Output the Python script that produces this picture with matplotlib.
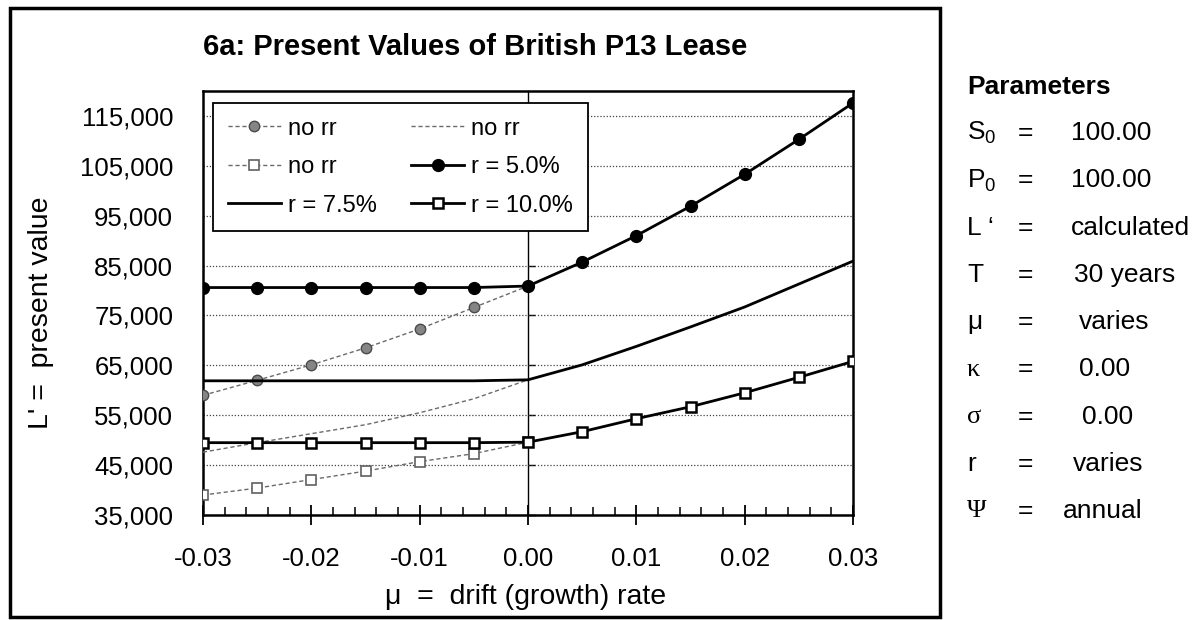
import matplotlib.pyplot as plt
import matplotlib.patches as patches
from matplotlib.ticker import MultipleLocator, FuncFormatter, FormatStrFormatter

plt.rcParams['font.family'] = ['Liberation Sans', 'DejaVu Sans']
plt.rcParams['mathtext.fontset'] = 'custom'
plt.rcParams['mathtext.rm'] = 'Liberation Sans'
plt.rcParams['axes.unicode_minus'] = False

# drift rates
mu = [-0.03, -0.025, -0.02, -0.015, -0.01, -0.005, 0.0, 0.005, 0.01, 0.015, 0.02, 0.025, 0.03]
mu_neg = mu[:7]

# present values
pv_r5 = [80600, 80600, 80600, 80600, 80600, 80600, 80900, 85700, 91000, 96900, 103300, 110300, 117600]
pv_r75 = [61900, 61900, 61900, 61900, 61900, 61900, 62100, 65100, 68800, 72700, 76700, 81300, 85900]
pv_r10 = [49500, 49500, 49500, 49500, 49500, 49500, 49600, 51700, 54300, 56700, 59500, 62600, 65800]
pv_norr_circ = [59000, 62000, 65100, 68500, 72300, 76600, 80900]
pv_norr_line = [47600, 49500, 51300, 53100, 55500, 58300, 62100]
pv_norr_sq = [39000, 40400, 42100, 43800, 45700, 47300, 49600]

y_ticks = [35000, 45000, 55000, 65000, 75000, 85000, 95000, 105000, 115000]
x_ticks = [-0.03, -0.02, -0.01, 0.0, 0.01, 0.02, 0.03]

param_names = ['S$_\\mathregular{0}$', 'P$_\\mathregular{0}$', 'L \u2018', 'T', '\u03bc', '\u03ba', '\u03c3', 'r', '\u03a8']
param_values = ['100.00', '100.00', 'calculated', '30 years', 'varies', '0.00', '0.00', 'varies', 'annual']
param_x = [1071, 1071, 1071, 1074, 1079, 1079, 1082, 1073, 1063]
greek_serif = ['\u03ba', '\u03c3', '\u03a8']

W, H = 1195, 620
fig = plt.figure(figsize=(W / 100, H / 100), dpi=100)
ax = fig.add_axes([203 / W, 1 - 515 / H, 650 / W, 424 / H])

dash = (0, (3, 2))
l_gc, = ax.plot(mu_neg, pv_norr_circ, linestyle=dash, color='#6a6a6a', lw=1, marker='o', ms=7.5,
                mfc='#858585', mec='#4a4a4a', mew=1, label='no rr', zorder=3)
l_thin, = ax.plot(mu_neg, pv_norr_line, linestyle=dash, color='#6a6a6a', lw=1, label='no rr', zorder=3)
l_gs, = ax.plot(mu_neg, pv_norr_sq, linestyle=dash, color='#6a6a6a', lw=1, marker='s', ms=7,
                mfc='white', mec='#606060', mew=1.2, label='no rr', zorder=3)
l_r75, = ax.plot(mu, pv_r75, color='black', lw=2, label='r = 7.5%', zorder=4)
l_r10, = ax.plot(mu, pv_r10, color='black', lw=2, marker='s', ms=7.5, mfc='white', mec='black',
                 mew=1.8, label='r = 10.0%', zorder=4)
l_r5, = ax.plot(mu, pv_r5, color='black', lw=2, marker='o', ms=8.5, mfc='black', mec='black',
                label='r = 5.0%', zorder=5)

ax.set_xlim(-0.03, 0.03)
ax.set_ylim(35000, 120000)
ax.set_xticks(x_ticks)
ax.xaxis.set_major_formatter(FormatStrFormatter('%.2f'))
ax.xaxis.set_minor_locator(MultipleLocator(0.002))
ax.set_yticks(y_ticks)
ax.yaxis.set_major_formatter(FuncFormatter(lambda v, p: '{:,.0f}'.format(v)))
ax.yaxis.grid(True, linestyle=(0, (1, 1.5)), color='#444444', lw=0.9)
ax.set_axisbelow(True)

ax.tick_params(axis='x', which='major', direction='inout', length=14, width=1.3, labelsize=18.5, pad=16)
ax.tick_params(axis='x', which='minor', direction='in', length=6, width=1.1)
ax.tick_params(axis='y', which='major', length=0, labelsize=18.5, pad=21.5)
for s in ax.spines.values():
    s.set_linewidth(1.8)

# value axis crosses at mu = 0
sec = ax.secondary_yaxis(0.5)
sec.set_yticks(y_ticks)
sec.tick_params(direction='out', length=5, width=1, labelleft=False, labelright=False)
sec.spines['left'].set_linewidth(1)
sec.spines['right'].set_linewidth(1)

leg = ax.legend(handles=[l_gc, l_gs, l_r75, l_thin, l_r5, l_r10], ncol=2, loc='upper left',
                bbox_to_anchor=(0.0154, 0.972), borderaxespad=0, fancybox=False, framealpha=1,
                edgecolor='black', fontsize=17, handlelength=2.25, handletextpad=0.3,
                columnspacing=1.45, labelspacing=0.7, borderpad=0.62)
leg.get_frame().set_linewidth(1.3)

fig.text(475 / W, 1 - 47 / H, '6a: Present Values of British P13 Lease', ha='center', va='center',
         fontsize=21, fontweight='bold')
fig.text(41 / W, 1 - 313 / H, "L' =  present value", ha='center', va='center', rotation=90, fontsize=20.5)
fig.text(526 / W, 1 - 597 / H, '\u03bc  =  drift (growth) rate', ha='center', va='center', fontsize=20.5)

# outer chart border
fig.add_artist(patches.Rectangle((10 / W, 1 - 617 / H), 930 / W, 609 / H, transform=fig.transFigure,
                                 fill=False, lw=2.5, edgecolor='black'))

# parameter block
fig.text(967 / W, 1 - 87 / H, 'Parameters', ha='left', va='center', fontsize=19, fontweight='bold')
for i, (name, val) in enumerate(zip(param_names, param_values)):
    y = 1 - (133 + i * 47.3) / H
    if name in greek_serif:
        fig.text(967 / W, y, name, ha='left', va='center', fontsize=19, family=['Liberation Serif'])
    else:
        fig.text(967 / W, y, name, ha='left', va='center', fontsize=19)
    fig.text(1025 / W, y, '=', ha='center', va='center', fontsize=19)
    fig.text(param_x[i] / W, y, val, ha='left', va='center', fontsize=19)

plt.savefig('out.png', dpi=100)
plt.close()
